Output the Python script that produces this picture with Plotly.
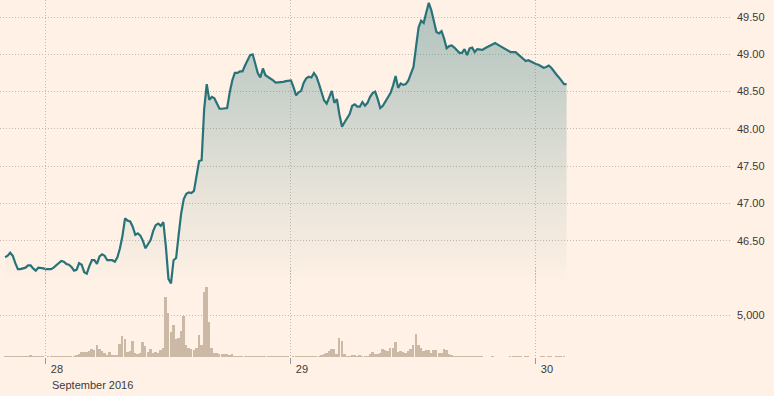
import pandas as pd
import plotly.graph_objects as go

# 15-minute intervals, Sep 27 20:00 -> Sep 30 03:00
times = pd.date_range("2016-09-27 20:00", periods=221, freq="15min")

price = [
    46.28, 46.30, 46.34, 46.30, 46.20, 46.12, 46.12, 46.13, 46.14, 46.17,
    46.17, 46.13, 46.10, 46.14, 46.14, 46.13, 46.12, 46.12, 46.12, 46.14,
    46.17, 46.20, 46.23, 46.22, 46.19, 46.18, 46.15, 46.10, 46.11, 46.20,
    46.18, 46.08, 46.06, 46.16, 46.24, 46.24, 46.19, 46.29, 46.32, 46.30,
    46.24, 46.24, 46.24, 46.22, 46.28, 46.40, 46.57, 46.80, 46.77, 46.76,
    46.69, 46.58, 46.60, 46.57, 46.50, 46.40, 46.45, 46.51, 46.63, 46.71,
    46.73, 46.70, 46.75, 46.42, 45.99, 45.93, 46.24, 46.27, 46.58, 46.87,
    47.06, 47.13, 47.15, 47.14, 47.17, 47.36, 47.57, 47.58, 48.27, 48.60,
    48.39, 48.43, 48.41, 48.34, 48.27, 48.27, 48.28, 48.28, 48.49, 48.65,
    48.75, 48.75, 48.77, 48.77, 48.85, 48.93, 48.99, 49.00, 48.88, 48.75,
    48.69, 48.81, 48.72, 48.70, 48.67, 48.65, 48.62, 48.62, 48.63, 48.63,
    48.64, 48.65, 48.65, 48.56, 48.45, 48.49, 48.51, 48.62, 48.68, 48.70,
    48.69, 48.75, 48.70, 48.60, 48.50, 48.38, 48.34, 48.44, 48.51, 48.35,
    48.40, 48.19, 48.03, 48.09, 48.14, 48.20, 48.31, 48.33, 48.30, 48.30,
    48.36, 48.31, 48.35, 48.43, 48.48, 48.50, 48.40, 48.28, 48.31, 48.37,
    48.43, 48.48, 48.58, 48.71, 48.55, 48.61, 48.59, 48.60, 48.65, 48.75,
    48.83, 49.10, 49.36, 49.45, 49.42, 49.56, 49.69, 49.59, 49.45, 49.30,
    49.28, 49.31, 49.21, 49.08, 49.11, 49.12, 49.09, 49.06, 49.02, 49.02,
    49.07, 48.99, 49.08, 49.09, 49.03, 49.07, 49.07, 49.06, 49.08, 49.10,
    49.11, 49.13, 49.15, 49.13, 49.11, 49.09, 49.07, 49.05, 49.03, 49.03,
    49.03, 49.00, 48.97, 48.93, 48.91, 48.92, 48.90, 48.89, 48.87, 48.86,
    48.84, 48.82, 48.83, 48.85, 48.82, 48.77, 48.73, 48.69, 48.64, 48.60,
    48.60,
]

volume = [
    80, 120, 120, 80, 120, 160, 120, 120, 80, 120,
    280, 120, 160, 120, 80, 80, 0, 80, 80, 40,
    80, 80, 120, 80, 120, 120, 160, 200, 280, 360,
    640, 640, 640, 760, 1000, 920, 1480, 1040, 800, 560,
    320, 640, 320, 320, 320, 1640, 2600, 2240, 600, 720,
    2000, 520, 440, 520, 1880, 1360, 680, 1040, 480, 680,
    520, 840, 1160, 7240, 5360, 3080, 3920, 2240, 2360, 3200,
    4920, 1520, 1080, 960, 840, 1160, 2720, 1520, 7880, 8480,
    4280, 1160, 520, 560, 440, 440, 440, 440, 320, 440,
    160, 120, 80, 80, 120, 160, 120, 80, 80, 120,
    120, 160, 120, 80, 80, 120, 80, 120, 120, 80,
    120, 80, 0, 80, 120, 80, 80, 120, 80, 80,
    120, 80, 120, 160, 280, 400, 560, 800, 1000, 1000,
    400, 2300, 1970, 400, 80, 160, 280, 280, 160, 280,
    160, 160, 80, 360, 600, 440, 360, 560, 970, 890,
    800, 1090, 1090, 1810, 600, 770, 600, 480, 720, 970,
    1490, 2780, 1490, 1090, 800, 890, 890, 560, 890, 890,
    560, 480, 1000, 890, 360, 240, 160, 160, 160, 80,
    80, 80, 120, 80, 80, 80, 80, 40, 0, 0,
    0, 80, 0, 0, 0, 0, 0, 0, 80, 80,
    80, 80, 80, 0, 80, 80, 0, 0, 0, 0,
    80, 80, 0, 80, 80, 0, 80, 80, 80, 80,
    0,
]

price_ticks = [46.5, 47.0, 47.5, 48.0, 48.5, 49.0, 49.5]
price_labels = ["46.50", "47.00", "47.50", "48.00", "48.50", "49.00", "49.50"]
volume_ticks = [5000]
volume_labels = ["5,000"]
day_ticks = ["2016-09-28", "2016-09-29", "2016-09-30"]
day_labels = ["28", "29", "30"]
month_label = "September 2016"

BG = "#fff1e5"
GRID = "#c4bbb0"
LINE = "#28737a"
TXT = "#3a3a3a"
FONT = "Liberation Sans, Arial, sans-serif"
DOTS = "1px,2px"

fig = go.Figure()

fig.add_trace(go.Bar(
    x=times, y=volume, yaxis="y2", xaxis="x",
    marker=dict(color="#cbb9a6", line=dict(width=0)),
    width=690000, hoverinfo="skip", showlegend=False,
))

fig.add_trace(go.Scatter(
    x=times, y=price, yaxis="y", xaxis="x", mode="lines",
    line=dict(color=LINE, width=2.2),
    fill="tozeroy",
    fillgradient=dict(
        type="vertical",
        start=45.908, stop=49.73,
        colorscale=[
            [0.0, "rgba(40,115,122,0.0)"],
            [0.3, "rgba(40,115,122,0.10)"],
            [0.65, "rgba(40,115,122,0.24)"],
            [1.0, "rgba(40,115,122,0.37)"],
        ],
    ),
    showlegend=False,
))

fig.update_layout(
    width=774, height=396,
    margin=dict(l=0, r=42, t=0, b=39, autoexpand=False),
    paper_bgcolor=BG, plot_bgcolor="rgba(0,0,0,0)",
    font=dict(family=FONT, size=11, color=TXT),
    bargap=0,
    xaxis=dict(
        type="date", automargin=False,
        range=["2016-09-27 19:30", "2016-09-30 19:12"],
        anchor="y2",
        tickmode="array", tickvals=day_ticks, ticktext=day_labels,
        ticks="outside", ticklen=6, tickcolor="#9d9791", tickwidth=1,
        ticklabelshift=11, ticklabelstandoff=-4,
        showgrid=True, gridcolor=GRID, griddash=DOTS, gridwidth=1,
        showline=False, zeroline=False,
        tickfont=dict(size=11, color=TXT),
    ),
    yaxis=dict(
        domain=[0.2017, 1.0], automargin=False,
        range=[45.908, 49.728],
        side="right",
        tickmode="array", tickvals=price_ticks, ticktext=price_labels,
        showgrid=True, gridcolor=GRID, griddash=DOTS, gridwidth=1,
        ticks="", ticklabelstandoff=4,
        zeroline=False, showline=False,
        tickfont=dict(size=11, color=TXT),
    ),
    yaxis2=dict(
        domain=[0.0, 0.25], automargin=False,
        range=[0, 10750],
        side="right",
        tickmode="array", tickvals=volume_ticks, ticktext=volume_labels,
        showgrid=True, gridcolor=GRID, griddash=DOTS, gridwidth=1,
        ticks="", ticklabelstandoff=4,
        zeroline=False, showline=False,
        tickfont=dict(size=11, color=TXT),
    ),
    annotations=[dict(
        text=month_label, x=day_ticks[0], xref="x",
        y=0, yref="paper", xanchor="left", yanchor="top",
        xshift=4, yshift=-20, showarrow=False,
        font=dict(size=11, color=TXT),
    )],
)

fig.write_html(
    "out.html",
    config={"displayModeBar": False},
    post_script="document.body.style.margin='0';document.body.style.overflow='hidden';",
)
